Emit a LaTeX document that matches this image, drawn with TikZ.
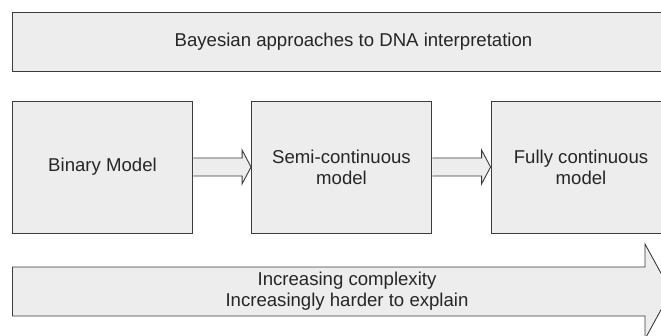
\documentclass[tikz,border=0pt]{standalone}
\usepackage{fontspec}
\setmainfont{Liberation Sans}
\usetikzlibrary{calc}
\definecolor{boxfill}{HTML}{EDEDED}
\definecolor{boxline}{HTML}{3C3C3C}
\definecolor{boxtext}{HTML}{262626}
\tikzset{
  box/.style={draw=boxline, fill=boxfill, line width=0.9pt, text=boxtext, align=center, inner sep=0pt},
  model/.style={box, minimum width=180pt, minimum height=132pt},
  fatarrow/.style={draw=boxline, fill=boxfill, line width=0.9pt, line join=miter},
}
\begin{document}
\begin{tikzpicture}[x=1pt, y=-1pt, font=\fontsize{18.6}{21}\selectfont]
    \useasboundingbox (0,0) rectangle (661,335);
    \clip (0,0) rectangle (661,335);
    \node[box, minimum width=682pt, minimum height=59pt] (title) at (353.5,41.5) {Bayesian approaches to DNA interpretation};
    \node[model] (binary) at (102.5,167) {Binary Model};
    \node[model] (semi) at (341.5,167) {Semi-continuous\\model};
    \node[model] (full) at (581,167) {Fully continuous\\model};
    % block arrows between the models
    \foreach \from/\to in {binary/semi, semi/full}
        \draw[fatarrow] ($(\from.east)+(0.5,-9)$) -- ($(\to.west)+(-9,-9)$) -- ($(\to.west)+(-9,-17)$)
            -- (\to.west) -- ($(\to.west)+(-9,17)$) -- ($(\to.west)+(-9,9)$) -- ($(\from.east)+(0.5,9)$);
    % long arrow at the bottom
    \coordinate (start) at (12.5,291.5);
    \coordinate (tip) at (671,291.5);
    \draw[fatarrow] ($(start)+(0,-24.5)$) -- ($(tip)+(-26,-24.5)$) -- ($(tip)+(-26,-47.5)$) -- (tip)
        -- ($(tip)+(-26,47.5)$) -- ($(tip)+(-26,24.5)$) -- ($(start)+(0,24.5)$) -- cycle;
    \node[text=boxtext, align=center] (trend) at (347,291.5) {Increasing complexity\\Increasingly harder to explain};
\end{tikzpicture}
\end{document}
